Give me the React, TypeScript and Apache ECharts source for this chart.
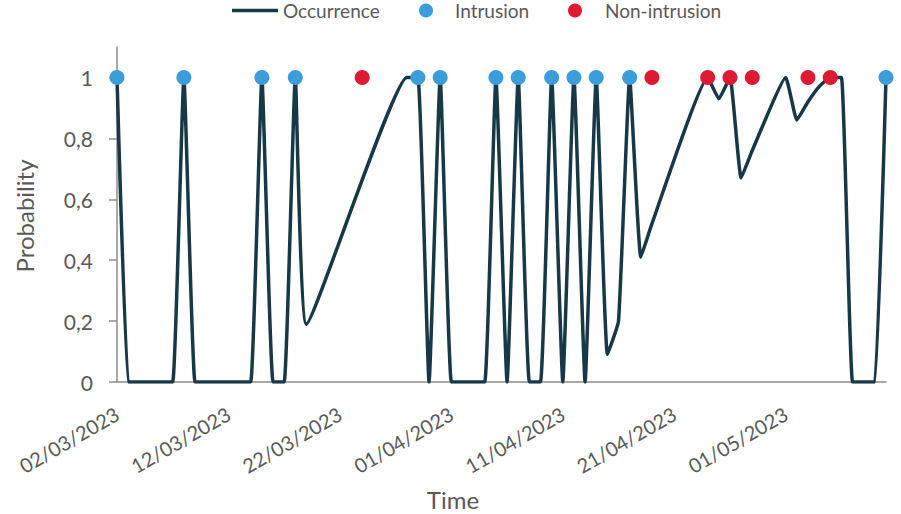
import React, { useEffect, useRef } from "react";
import * as echarts from "echarts";

// Occurrence probability line (date, value)
const lineDates = [
  "2023-03-02", "2023-03-03", "2023-03-04", "2023-03-05", "2023-03-06", "2023-03-07",
  "2023-03-08", "2023-03-09", "2023-03-10", "2023-03-11", "2023-03-12", "2023-03-13",
  "2023-03-14", "2023-03-15", "2023-03-16", "2023-03-17", "2023-03-18", "2023-03-19",
  "2023-03-28", "2023-03-29", "2023-03-30", "2023-03-31", "2023-04-01", "2023-04-02",
  "2023-04-03", "2023-04-04", "2023-04-05", "2023-04-06", "2023-04-07", "2023-04-08",
  "2023-04-09", "2023-04-10", "2023-04-11", "2023-04-12", "2023-04-13", "2023-04-14",
  "2023-04-15", "2023-04-16", "2023-04-17", "2023-04-18", "2023-04-19", "2023-04-24",
  "2023-04-25", "2023-04-26", "2023-04-27", "2023-04-28", "2023-05-01", "2023-05-02",
  "2023-05-03", "2023-05-04", "2023-05-05", "2023-05-06", "2023-05-07", "2023-05-08",
  "2023-05-09", "2023-05-10",
];
const lineValues = [
  1, 0, 0, 0, 0, 0,
  1, 0, 0, 0, 0, 0,
  0, 1, 0, 0, 1, 0.19,
  1, 1, 0, 1, 0, 0,
  0, 0, 1, 0, 1, 0,
  0, 1, 0, 1, 0, 1,
  0.09, 0.2, 1, 0.41, 0.52, 1,
  0.93, 1, 0.67, 0.76, 1, 0.86,
  0.92, 0.97, 1, 1, 0, 0,
  0, 1,
];

const intrusionDates = [
  "2023-03-02", "2023-03-08", "2023-03-15", "2023-03-18", "2023-03-29", "2023-03-31",
  "2023-04-05", "2023-04-07", "2023-04-10", "2023-04-12", "2023-04-14", "2023-04-17",
  "2023-05-10",
];
const intrusionValues = [1, 1, 1, 1, 1, 1, 1, 1, 1, 1, 1, 1, 1];

const nonIntrusionDates = [
  "2023-03-24", "2023-04-19", "2023-04-24", "2023-04-26", "2023-04-28", "2023-05-03",
  "2023-05-05",
];
const nonIntrusionValues = [1, 1, 1, 1, 1, 1, 1];

const xTickDates = [
  "2023-03-02", "2023-03-12", "2023-03-22", "2023-04-01", "2023-04-11", "2023-04-21",
  "2023-05-01",
];
const xMinDate = "2023-03-02";
const xMaxDate = "2023-05-10";
const yTicks = [0, 0.2, 0.4, 0.6, 0.8, 1];

function ts(s: string): number {
  const [y, m, d] = s.split("-").map(Number);
  return new Date(y, m - 1, d).getTime();
}
function pad(n: number) {
  return n < 10 ? "0" + n : "" + n;
}
function fmtDate(v: number) {
  const d = new Date(v);
  return pad(d.getDate()) + "/" + pad(d.getMonth() + 1) + "/" + d.getFullYear();
}

const FONT = "Lato";
const TEXT = "#595959";
const AXIS = "#8c8c8c";
const LINE = "#173846";
const BLUE = "#3c9ddb";
const RED = "#dc1a32";

export default function App() {
  const ref = useRef<HTMLDivElement>(null);
  useEffect(() => {
    if (!ref.current) return;
    const chart = echarts.init(ref.current, undefined, { renderer: "svg" });
    const legendText = { fontSize: 19, color: TEXT, fontFamily: FONT };
    chart.setOption({
      animation: false,
      textStyle: { fontFamily: FONT },
      legend: [
        {
          top: 1,
          left: 232,
          padding: 0,
          itemWidth: 46,
          itemHeight: 14,
          textStyle: legendText,
          data: [{ name: "Occurrence", icon: "path://M0,0 H46 V3.5 H0 Z", itemStyle: { color: LINE } }],
        },
        {
          top: 1,
          left: 419,
          padding: 0,
          itemWidth: 14,
          itemHeight: 14,
          textStyle: { ...legendText, padding: [0, 0, 0, 17] },
          data: [{ name: "Intrusion", icon: "circle" }],
        },
        {
          top: 1,
          left: 568,
          padding: 0,
          itemWidth: 14,
          itemHeight: 14,
          textStyle: { ...legendText, padding: [0, 0, 0, 18] },
          data: [{ name: "Non-intrusion", icon: "circle" }],
        },
      ],
      grid: { left: 117, right: 15, top: 47, bottom: 132 },
      xAxis: {
        type: "value",
        min: ts(xMinDate),
        max: ts(xMaxDate),
        axisLine: { show: true, onZero: false, lineStyle: { color: AXIS, width: 1.5 } },
        axisTick: { show: false },
        splitLine: { show: false },
        axisLabel: {
          customValues: xTickDates.map(ts),
          rotate: 30,
          margin: 30,
          fontSize: 20,
          color: TEXT,
          fontFamily: FONT,
          formatter: (v: number) => fmtDate(v),
        },
      },
      yAxis: {
        type: "value",
        min: 0,
        max: 1.1,
        interval: 0.2,
        axisLine: { show: true, lineStyle: { color: AXIS, width: 1.5 } },
        axisTick: {
          show: true,
          length: 8,
          customValues: yTicks,
          lineStyle: { color: AXIS, width: 1.5 },
        },
        splitLine: { show: false },
        axisLabel: {
          customValues: yTicks,
          margin: 24,
          fontSize: 21,
          color: TEXT,
          fontFamily: FONT,
          formatter: (v: number) => String(Math.round(v * 10) / 10).replace(".", ","),
        },
      },
      graphic: [
        {
          type: "text",
          x: 24,
          y: 216,
          rotation: Math.PI / 2,
          style: {
            text: "Probability",
            fontSize: 24,
            fontFamily: FONT,
            fill: TEXT,
            align: "center",
            verticalAlign: "middle",
          },
        },
        {
          type: "text",
          x: 453,
          y: 499,
          style: {
            text: "Time",
            fontSize: 24,
            fontFamily: FONT,
            fill: TEXT,
            align: "center",
            verticalAlign: "middle",
          },
        },
      ],
      series: [
        {
          name: "Occurrence",
          type: "line",
          smooth: 0.12,
          symbol: "none",
          showSymbol: false,
          lineStyle: { color: LINE, width: 3.5 },
          itemStyle: { color: LINE },
          data: lineDates.map((d, i) => [ts(d), lineValues[i]]),
          z: 2,
        },
        {
          name: "Intrusion",
          type: "scatter",
          symbol: "circle",
          symbolSize: 15,
          itemStyle: { color: BLUE, opacity: 1 },
          data: intrusionDates.map((d, i) => [ts(d), intrusionValues[i]]),
          z: 3,
        },
        {
          name: "Non-intrusion",
          type: "scatter",
          symbol: "circle",
          symbolSize: 15,
          itemStyle: { color: RED, opacity: 1 },
          data: nonIntrusionDates.map((d, i) => [ts(d), nonIntrusionValues[i]]),
          z: 3,
        },
      ],
    });
    return () => chart.dispose();
  }, []);
  return (
    <div
      ref={ref}
      style={{ position: "absolute", left: 0, top: 0, width: 901, height: 514 }}
    />
  );
}
